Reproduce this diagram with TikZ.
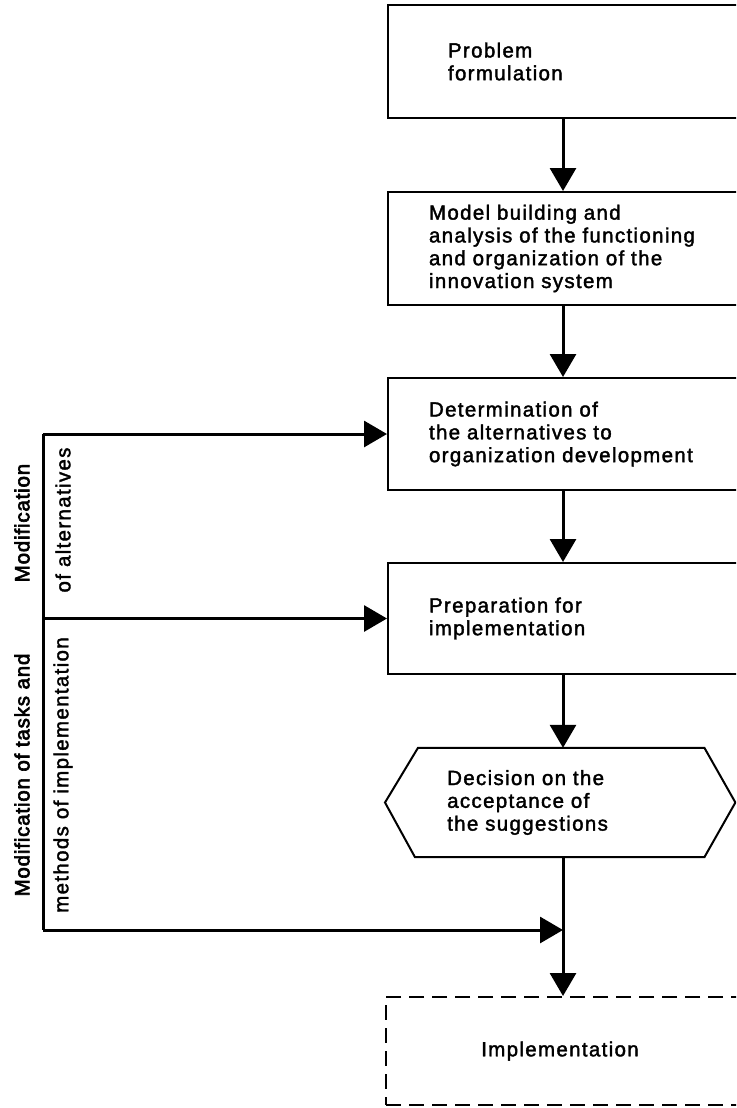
\documentclass[tikz,border=0pt]{standalone}
\usepackage{fontspec}
\setmainfont{Liberation Sans}[LetterSpace=6.5, FakeBold=1.8]
\newfontfamily\sidefont{Liberation Sans}[LetterSpace=4, FakeBold=3]
\usetikzlibrary{arrows.meta,calc}

\begin{document}
\begin{tikzpicture}[x=1pt,y=-1pt,
  every node/.style={font=\fontsize{20.5}{22.8}\selectfont},
  stage/.style={draw, line width=2pt, rectangle, anchor=west, align=left},
  conn/.style={line width=3pt},
  flow/.style={line width=3pt, -{Triangle[length=23pt,width=26pt]}},
  sidelabel/.style={rotate=90, font=\sidefont\fontsize{20.5}{22.8}\selectfont},
  innerlabel/.style={rotate=90}]

\clip (0,0) rectangle (736,1108);
\fill[white] (0,0) rectangle (736,1108);

% common vertical axis of the main flow
\coordinate (axis) at (563,0);

% process stages (right-hand sides run past the page edge)
\node[stage, inner xsep=60pt, text width=300pt, minimum height=113pt] (b1) at (387,61.5)
  {Problem\\formulation};
\node[stage, inner xsep=41pt, text width=340pt, minimum height=113pt] (b2) at (387,248.5)
  {Model building and\\analysis of the functioning\\and organization of the\\innovation system};
\node[stage, inner xsep=41pt, text width=340pt, minimum height=112pt] (b3) at (387,434)
  {Determination of\\the alternatives to\\organization development};
\node[stage, inner xsep=41pt, text width=340pt, minimum height=111pt] (b4) at (387,618.5)
  {Preparation for\\implementation};

% decision (hexagon)
\node[anchor=west, align=left, inner xsep=62pt, text width=226pt, minimum height=109pt] (hex) at (385,802.5)
  {Decision on the\\acceptance of\\the suggestions};
\draw[line width=2pt, line join=miter]
  (hex.west) -- ([xshift=33pt]hex.north west) -- ([xshift=-31pt]hex.north east)
  -- (hex.east) -- ([xshift=-31pt]hex.south east) -- ([xshift=30pt]hex.south west) -- cycle;

% final stage
\node[draw, dashed, dash pattern=on 15pt off 8pt, line width=2pt, anchor=west,
      minimum width=356pt, minimum height=108pt] (impl) at (385,1051)
  {\hspace*{-8pt}Implementation};

% main flow
\draw[flow] (b1.south -| axis) -- (b2.north -| axis);
\draw[flow] (b2.south -| axis) -- (b3.north -| axis);
\draw[flow] (b3.south -| axis) -- (b4.north -| axis);
\draw[flow] (b4.south -| axis) -- (hex.north -| axis);
\draw[flow] (hex.south -| axis) -- (impl.north -| axis);

% feedback loop
\coordinate (junc) at (563,930);
\coordinate (fbb) at (43,930);
\draw[conn] (b3.west -| fbb) -- (fbb);
\draw[flow] (b3.west -| fbb) -- (b3.west);
\draw[flow] (b4.west -| fbb) -- (b4.west);
\draw[flow] (fbb) -- (junc);

% loop labels
\node[sidelabel] (m1) at (22,523) {Modification};
\node[innerlabel] (m2) at (63,520) {of alternatives};
\node[sidelabel] (m3) at (22,775) {Modification of tasks and};
\node[innerlabel] (m4) at (63,775) {methods of implementation};

\end{tikzpicture}
\end{document}
